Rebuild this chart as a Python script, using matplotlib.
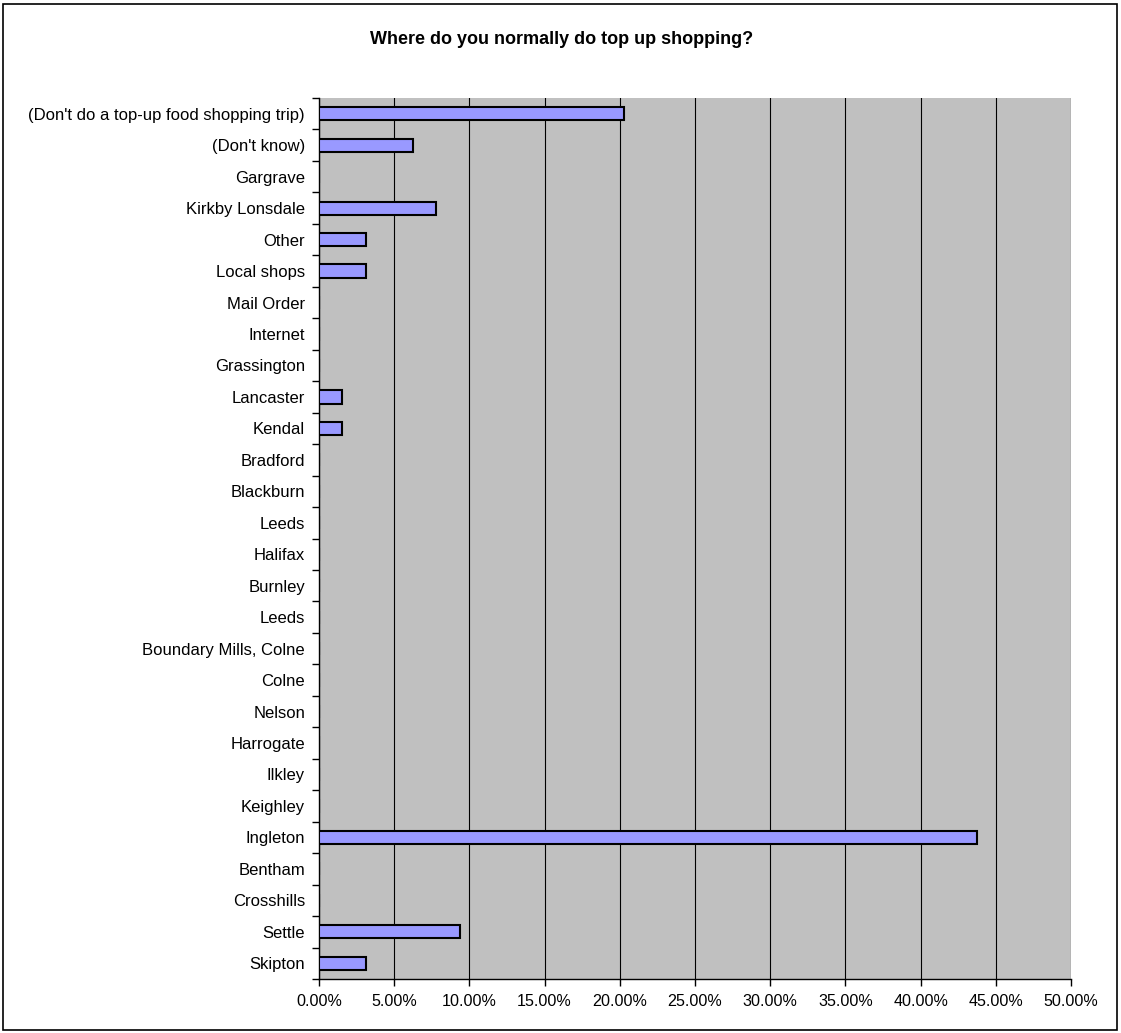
import matplotlib
matplotlib.use('Agg')
import matplotlib.pyplot as plt
from matplotlib.ticker import FixedLocator, PercentFormatter
import numpy as np

plt.rcParams['font.family'] = ['Liberation Sans', 'DejaVu Sans']

# categories listed top to bottom as shown in the chart
places = ["(Don't do a top-up food shopping trip)", "(Don't know)", "Gargrave",
          "Kirkby Lonsdale", "Other", "Local shops", "Mail Order", "Internet",
          "Grassington", "Lancaster", "Kendal", "Bradford", "Blackburn", "Leeds",
          "Halifax", "Burnley", "Leeds", "Boundary Mills, Colne", "Colne", "Nelson",
          "Harrogate", "Ilkley", "Keighley", "Ingleton", "Bentham", "Crosshills",
          "Settle", "Skipton"]
share = [20.31, 6.25, 0.0, 7.81, 3.13, 3.13, 0.0, 0.0, 0.0, 1.56, 1.56, 0.0, 0.0, 0.0,
         0.0, 0.0, 0.0, 0.0, 0.0, 0.0, 0.0, 0.0, 0.0, 43.75, 0.0, 0.0, 9.38, 3.13]
x_ticks = np.arange(0, 55, 5)

W, H = 1121, 1033
fig = plt.figure(figsize=(W / 100, H / 100), dpi=100)
ax = fig.add_axes([319 / W, 1 - 979 / H, (1071 - 319) / W, (979 - 98) / H])
ax.set_facecolor('#C0C0C0')

n = len(places)
ypos = np.arange(n)[::-1]
ax.barh(ypos, share, height=0.42, color='#9999FF', edgecolor='black', linewidth=1.5, zorder=3)

ax.set_ylim(-0.5, n - 0.5)
ax.set_xlim(0, 50)
ax.set_xticks(x_ticks)
ax.xaxis.set_major_formatter(PercentFormatter(decimals=2))
ax.set_yticks(ypos)
ax.set_yticklabels(places)
ax.yaxis.set_minor_locator(FixedLocator(np.arange(-0.5, n, 1.0)))
ax.tick_params(axis='y', which='major', length=0, pad=10, labelsize=12)
ax.tick_params(axis='y', which='minor', length=5, width=1, color='black')
ax.tick_params(axis='x', length=5, width=1, labelsize=11.6, pad=6)
ax.grid(axis='x', color='black', linewidth=0.8, zorder=1)

for s in ['top', 'right']:
    ax.spines[s].set_visible(False)
for s in ['left', 'bottom']:
    ax.spines[s].set_color('black')
    ax.spines[s].set_linewidth(1)

fig.text(562 / W, 1 - 40 / H, 'Where do you normally do top up shopping?',
         ha='center', va='center', fontsize=13, fontweight='bold')

# outer frame of the chart
fig.patches.append(plt.Rectangle((3 / W, 3 / H), 1 - 7 / W, 1 - 7 / H, transform=fig.transFigure,
                                 fill=False, edgecolor='black', linewidth=1.2))

fig.savefig('out.png', dpi=100)
